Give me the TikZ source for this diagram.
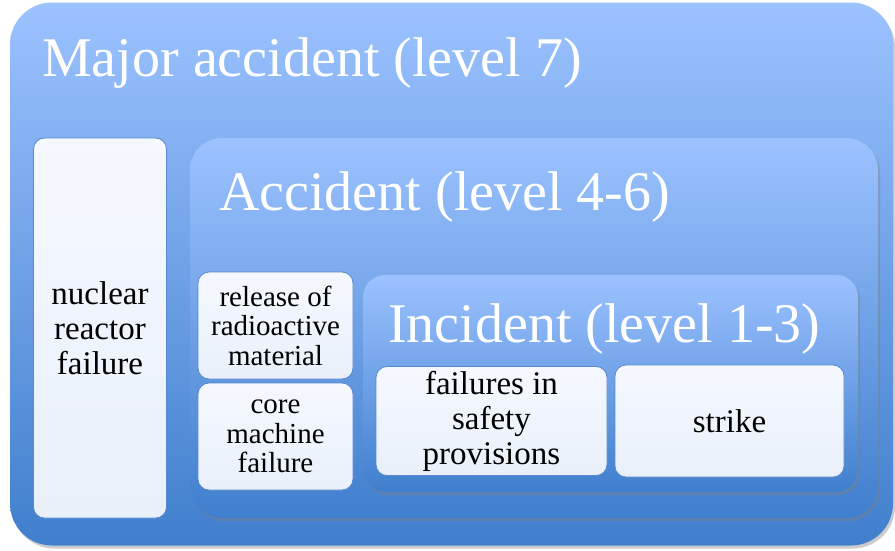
\documentclass[tikz,border=0pt]{standalone}
\usepackage{fontspec}
\setmainfont{Liberation Serif}
\usetikzlibrary{shadows}

\definecolor{lvltop}{RGB}{156,194,255}
\definecolor{lvlbot}{RGB}{64,127,205}
\definecolor{itemtop}{RGB}{245,248,254}
\definecolor{itembot}{RGB}{233,240,250}
\definecolor{itemline}{RGB}{88,137,204}

\begin{document}
\begin{tikzpicture}[x=1pt,y=-1pt,
    level/.style={top color=lvltop, bottom color=lvlbot, inner sep=0pt,
        drop shadow={shadow xshift=2pt, shadow yshift=-3pt, opacity=0.4}},
    item/.style={draw=itemline, line width=0.8pt, top color=itemtop,
        bottom color=itembot, rounded corners=11pt, inner sep=0pt,
        align=center, text=black},
    big/.style={font=\rmfamily\fontsize{33}{35}\selectfont},
    small/.style={font=\rmfamily\fontsize{29}{29.5}\selectfont},
    title/.style={anchor=base west, text=white, inner sep=0pt,
        font=\rmfamily\fontsize{56}{60}\selectfont}]
    \useasboundingbox (0,0) rectangle (895,550);

    % level 7
    \node[level, rounded corners=42pt, minimum width=883pt,
        minimum height=543pt] (Major) at (451.5,274) {};
    \node[title] (MajorTitle) at (42,76) {Major accident (level 7)};
    \node[item, big, minimum width=133pt, minimum height=380pt]
        (reactor) at (100,328) {nuclear\\reactor\\failure};

    % level 4-6
    \node[level, rounded corners=32pt, minimum width=688pt,
        minimum height=380pt] (Accident) at (534,328) {};
    \node[title] (AccidentTitle) at (219,210) {Accident (level 4-6)};
    \node[item, small, minimum width=155pt, minimum height=107pt]
        (release) at (275.5,325.5) {release of\\radioactive\\material};
    \node[item, small, minimum width=155pt, minimum height=107pt]
        (core) at (275.5,436.5) {core\\machine\\failure};

    % level 1-3
    \node[level, rounded corners=22pt, minimum width=495pt,
        minimum height=217pt] (Incident) at (610.5,383.5) {};
    \node[title] (IncidentTitle) at (388,342) {Incident (level 1-3)};
    \node[item, big, minimum width=231pt, minimum height=109pt]
        (safety) at (491.5,421) {failures in\\safety\\provisions};
    \node[item, big, minimum width=229pt, minimum height=112pt]
        (strike) at (729.5,421) {strike};
\end{tikzpicture}
\end{document}
